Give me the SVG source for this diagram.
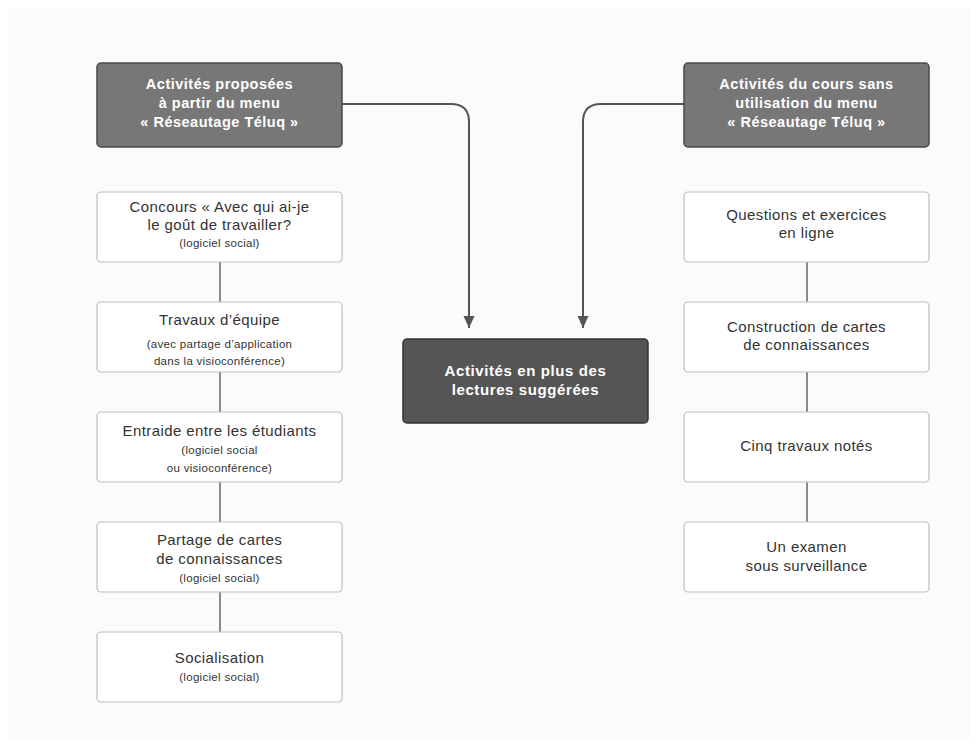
<svg xmlns="http://www.w3.org/2000/svg" width="978" height="748" viewBox="0 0 978 748">
<defs>
<style>
.hdr{fill:#777777;stroke:#4a4a4a;stroke-width:1.5}
.ctr{fill:#555555;stroke:#333333;stroke-width:1.5}
.box{fill:#ffffff;stroke:#bdbdbd;stroke-width:1.2}
.ht{font-family:"Liberation Sans",Arial,sans-serif;font-weight:bold;font-size:14.5px;letter-spacing:0.5px;fill:#ffffff;text-anchor:middle}
.ct{font-family:"Liberation Sans",Arial,sans-serif;font-weight:bold;font-size:15px;letter-spacing:0.6px;fill:#ffffff;text-anchor:middle}
.bt{font-family:"Liberation Sans",Arial,sans-serif;font-size:15px;letter-spacing:0.4px;fill:#333333;text-anchor:middle}
.st{font-family:"Liberation Sans",Arial,sans-serif;font-size:11.5px;letter-spacing:0.3px;fill:#333333;text-anchor:middle}
.arr{fill:none;stroke:#555555;stroke-width:2}
.lnk{fill:none;stroke:#666666;stroke-width:1.5}
</style>
<marker id="ah2" markerWidth="11" markerHeight="12" refX="12" refY="5.5" orient="auto" markerUnits="userSpaceOnUse">
<path d="M0,0 L12,5.5 L0,11 Z" fill="#555555"/>
</marker>
</defs>
<rect x="0" y="0" width="978" height="748" fill="#ffffff"/>
<rect x="8" y="8" width="962" height="732" fill="#fbfbfb"/>

<g id="connectors">
<path class="arr" d="M342,104 H451 Q469,104 469,122 V328" marker-end="url(#ah2)"/>
<path class="arr" d="M684,104 H601 Q583,104 583,122 V328" marker-end="url(#ah2)"/>
<line class="lnk" x1="220" y1="262" x2="220" y2="302"/>
<line class="lnk" x1="220" y1="372" x2="220" y2="412"/>
<line class="lnk" x1="220" y1="482" x2="220" y2="522"/>
<line class="lnk" x1="220" y1="592" x2="220" y2="632"/>
<line class="lnk" x1="807" y1="262" x2="807" y2="302"/>
<line class="lnk" x1="807" y1="372" x2="807" y2="412"/>
<line class="lnk" x1="807" y1="482" x2="807" y2="522"/>
</g>

<g id="hdr-left">
<rect class="hdr" x="97" y="63" width="245" height="84" rx="4"/>
<text class="ht" x="219.5" y="89">Activités proposées</text>
<text class="ht" x="219.5" y="108">à partir du menu</text>
<text class="ht" x="219.5" y="127">« Réseautage Téluq »</text>
</g>

<g id="hdr-right">
<rect class="hdr" x="684" y="63" width="245" height="84" rx="4"/>
<text class="ht" x="806.5" y="89">Activités du cours sans</text>
<text class="ht" x="806.5" y="108">utilisation du menu</text>
<text class="ht" x="806.5" y="127">« Réseautage Téluq »</text>
</g>

<g id="center">
<rect class="ctr" x="403" y="339" width="245" height="84" rx="4"/>
<text class="ct" x="525.5" y="376">Activités en plus des</text>
<text class="ct" x="525.5" y="395">lectures suggérées</text>
</g>

<g id="l1">
<rect class="box" x="97" y="192" width="245" height="70" rx="4"/>
<text class="bt" x="219.5" y="212">Concours « Avec qui ai-je</text>
<text class="bt" x="219.5" y="230">le goût de travailler?</text>
<text class="st" x="219.5" y="247">(logiciel social)</text>
</g>

<g id="l2">
<rect class="box" x="97" y="302" width="245" height="70" rx="4"/>
<text class="bt" x="219.5" y="325">Travaux d’équipe</text>
<text class="st" x="219.5" y="348">(avec partage d’application</text>
<text class="st" x="219.5" y="365">dans la visioconférence)</text>
</g>

<g id="l3">
<rect class="box" x="97" y="412" width="245" height="70" rx="4"/>
<text class="bt" x="219.5" y="436">Entraide entre les étudiants</text>
<text class="st" x="219.5" y="454">(logiciel social</text>
<text class="st" x="219.5" y="472">ou visioconférence)</text>
</g>

<g id="l4">
<rect class="box" x="97" y="522" width="245" height="70" rx="4"/>
<text class="bt" x="219.5" y="545">Partage de cartes</text>
<text class="bt" x="219.5" y="564">de connaissances</text>
<text class="st" x="219.5" y="582">(logiciel social)</text>
</g>

<g id="l5">
<rect class="box" x="97" y="632" width="245" height="70" rx="4"/>
<text class="bt" x="219.5" y="663">Socialisation</text>
<text class="st" x="219.5" y="681">(logiciel social)</text>
</g>

<g id="r1">
<rect class="box" x="684" y="192" width="245" height="70" rx="4"/>
<text class="bt" x="806.5" y="220">Questions et exercices</text>
<text class="bt" x="806.5" y="238">en ligne</text>
</g>

<g id="r2">
<rect class="box" x="684" y="302" width="245" height="70" rx="4"/>
<text class="bt" x="806.5" y="332">Construction de cartes</text>
<text class="bt" x="806.5" y="350">de connaissances</text>
</g>

<g id="r3">
<rect class="box" x="684" y="412" width="245" height="70" rx="4"/>
<text class="bt" x="806.5" y="451">Cinq travaux notés</text>
</g>

<g id="r4">
<rect class="box" x="684" y="522" width="245" height="70" rx="4"/>
<text class="bt" x="806.5" y="552">Un examen</text>
<text class="bt" x="806.5" y="571">sous surveillance</text>
</g>
</svg>
